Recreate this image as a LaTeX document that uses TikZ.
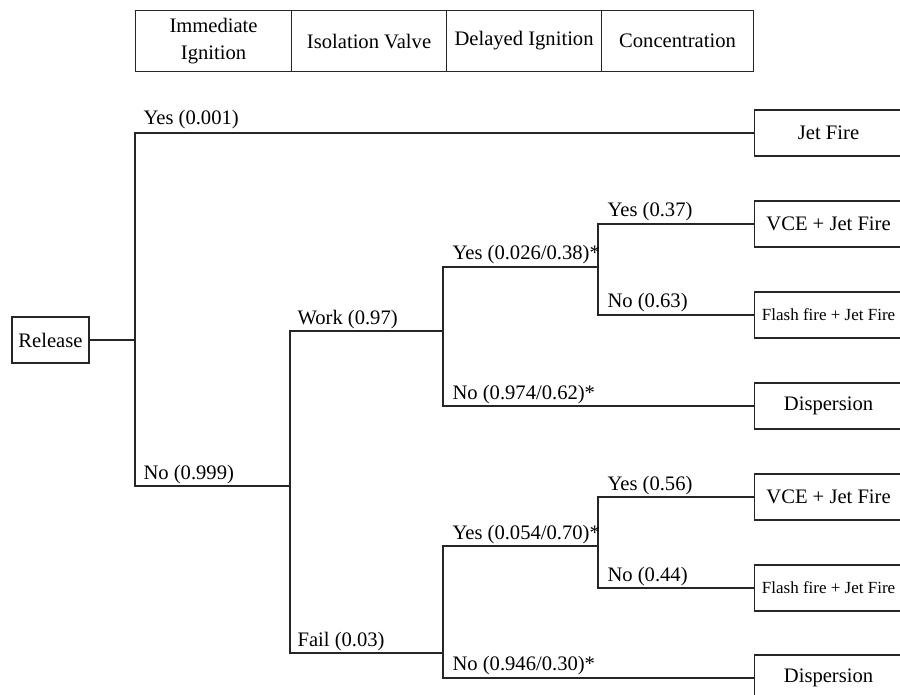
\documentclass[tikz,border=0pt]{standalone}
\usepackage{fontspec}
\setmainfont{Liberation Serif}
\begin{document}
\begin{tikzpicture}[x=1pt,y=-1pt, line width=1.1pt, draw=black!85,
  txt/.style={font=\fontsize{20.6}{27}\selectfont, inner sep=0pt},
  lbl/.style={txt, anchor=base west},
  hcell/.style={draw, txt, minimum height=61pt, align=center, anchor=north west},
  outcome/.style={draw, txt, minimum width=148pt, minimum height=46pt, anchor=west},
  small/.style={font=\fontsize{17}{20}\selectfont}]
\useasboundingbox (0,0) rectangle (900,695);
\clip (0,0) rectangle (900,695);

% column headings
\node[hcell, minimum width=156pt] (h1) at (135,10) {Immediate\\Ignition};
\node[hcell, minimum width=155pt] (h2) at (291,10) {Isolation Valve};
\node[hcell, minimum width=155pt] (h3) at (446,10) {Delayed Ignition};
\node[hcell, minimum width=152pt] (h4) at (601,10) {Concentration};

% initiating event and end states
\node[draw, txt, minimum width=77pt, minimum height=46pt] (rel) at (50.5,340) {Release};
\node[outcome] (jet)   at (754,133) {Jet Fire};
\node[outcome] (vce1)  at (754,224) {VCE + Jet Fire};
\node[outcome, small] (fl1) at (754,315) {Flash fire + Jet Fire};
\node[outcome] (disp1) at (754,406) {Dispersion};
\node[outcome] (vce2)  at (754,497) {VCE + Jet Fire};
\node[outcome, small] (fl2) at (754,588) {Flash fire + Jet Fire};
\node[outcome] (disp2) at (754,678) {Dispersion};

% branch points
\coordinate (n1) at (135,340);
\coordinate (n2) at (290,486);
\coordinate (n3) at (443,331);
\coordinate (n4) at (598,267);
\coordinate (n5) at (443,653);
\coordinate (n6) at (598,546);

% tree branches
\draw (rel.east) -- (n1);
\draw (jet.west) -| (n1) |- (n2);
\draw (n3) -| (n2);
\draw (n5) -| (n2);
\draw (n4) -| (n3) |- (disp1.west);
\draw (vce1.west) -| (n4) |- (fl1.west);
\draw (n6) -| (n5) |- (disp2.west);
\draw (vce2.west) -| (n6) |- (fl2.west);

% branch probabilities
\node[lbl] (l1)  at (143,125) {Yes (0.001)};
\node[lbl] (l2)  at (143,479) {No (0.999)};
\node[lbl] (l3)  at (297,324) {Work (0.97)};
\node[lbl] (l4)  at (297,646) {Fail (0.03)};
\node[lbl] (l5)  at (452,260) {Yes (0.026/0.38)*};
\node[lbl] (l6)  at (452,399) {No (0.974/0.62)*};
\node[lbl] (l7)  at (607,217) {Yes (0.37)};
\node[lbl] (l8)  at (607,308) {No (0.63)};
\node[lbl] (l9)  at (452,539) {Yes (0.054/0.70)*};
\node[lbl] (l10) at (452,670) {No (0.946/0.30)*};
\node[lbl] (l11) at (607,490) {Yes (0.56)};
\node[lbl] (l12) at (607,581) {No (0.44)};
\end{tikzpicture}
\end{document}
